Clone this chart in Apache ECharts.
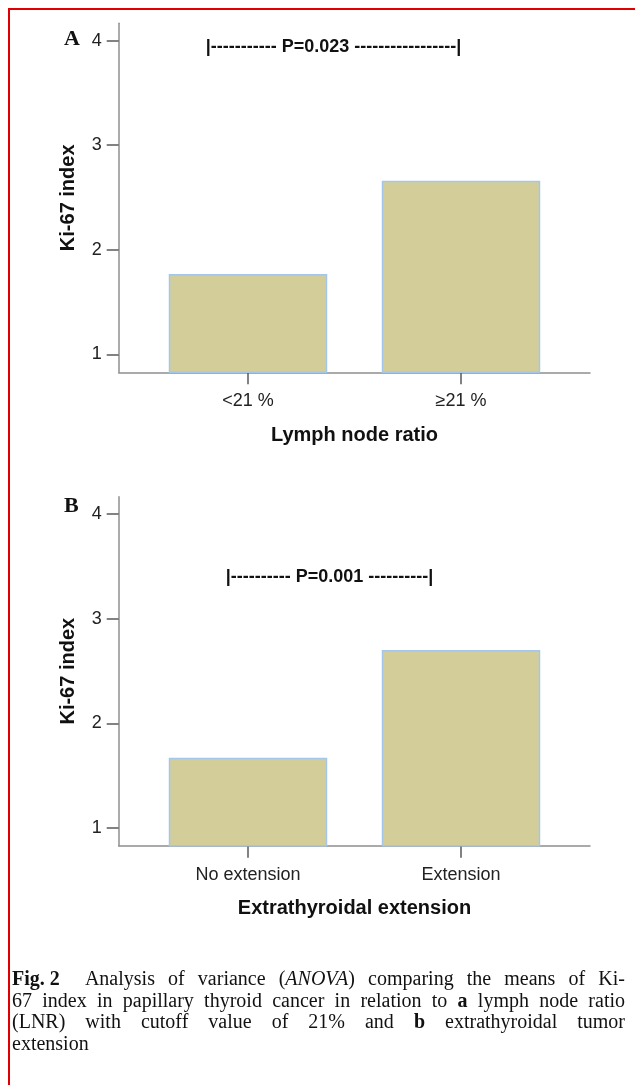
<!DOCTYPE html>
<html>
<head>
<meta charset="utf-8">
<script src="https://cdn.jsdelivr.net/npm/echarts@6/dist/echarts.min.js"></script>
<style>
  html, body { margin: 0; padding: 0; background: #fff; }
  #wrap { position: relative; width: 635px; height: 1085px; overflow: hidden; }
  #chart { position: absolute; left: 0; top: 0; width: 635px; height: 1085px; }
  #frame { position: absolute; left: 8px; top: 8px; width: 660px; height: 1100px; border: 2px solid #e00000; box-sizing: border-box; pointer-events: none; }
  #caption { position: absolute; left: 12px; top: 968px; width: 613px; font-family: "Liberation Serif", "Times New Roman", serif; font-size: 20px; line-height: 21.5px; color: #111; }
  #caption .l { white-space: nowrap; text-align: justify; text-align-last: justify; }
  #caption .last { white-space: nowrap; text-align: left; }
  #caption .ib { display: inline-block; }
</style>
</head>
<body>
<div id="wrap">
  <div id="chart"></div>
  <div id="frame"></div>
  <div id="caption">
    <div class="l"><b class="ib">Fig. 2</b>&nbsp; Analysis of variance (<i>ANOVA</i>) comparing the means of Ki-</div>
    <div class="l">67 index in papillary thyroid cancer in relation to <b>a</b> lymph node ratio</div>
    <div class="l">(LNR) with cutoff value of 21% and <b>b</b> extrathyroidal tumor</div>
    <div class="last">extension</div>
  </div>
</div>
<script>
// ---- data ----
const categoriesA = ['<21 %', '\u226521 %'];
const valuesA = [1.77, 2.66];
const categoriesB = ['No extension', 'Extension'];
const valuesB = [1.67, 2.70];
const yTicks = [1, 2, 3, 4];
const yMin = 0.83;
const yMax = 4.165;
const xNameA = 'Lymph node ratio';
const xNameB = 'Extrathyroidal extension';
const yName = 'Ki-67 index';
const pTextA = '|----------- P=0.023 -----------------|';
const pTextB = '|---------- P=0.001 ----------|';

const FONT = '"Liberation Sans", Arial, sans-serif';
const AXIS_COLOR = '#8f8f8f';
const TICK_COLOR = '#5a5a5a';

const chart = echarts.init(document.getElementById('chart'), null, { renderer: 'canvas' });

function frameGrid(top) { return { left: 118.7, top: top, width: 471.3, height: 349, containLabel: false }; }
function barGrid(top) { return { left: 141.5, top: top, width: 426, height: 349, containLabel: false }; }

function frameX(gi) {
  return {
    gridIndex: gi, type: 'value', min: 0, max: 1,
    axisLine: { show: true, lineStyle: { color: AXIS_COLOR, width: 1.5 } },
    axisTick: { show: false }, axisLabel: { show: false }, splitLine: { show: false }
  };
}
function frameY(gi) {
  return {
    gridIndex: gi, type: 'value', min: yMin, max: yMax,
    name: yName, nameLocation: 'middle', nameGap: 40,
    nameTextStyle: { fontFamily: FONT, fontSize: 20, fontWeight: 'bold', color: '#111' },
    axisLine: { show: true, lineStyle: { color: AXIS_COLOR, width: 1.5 } },
    axisTick: { show: true, length: 12, customValues: yTicks, lineStyle: { color: TICK_COLOR, width: 1.5 } },
    axisLabel: { show: true, customValues: yTicks, margin: 17, fontFamily: FONT, fontSize: 18, color: '#222' },
    splitLine: { show: false }
  };
}
function barX(gi, cats, name) {
  return {
    gridIndex: gi, type: 'category', data: cats,
    name: name, nameLocation: 'middle', nameGap: 53,
    nameTextStyle: { fontFamily: FONT, fontSize: 20, fontWeight: 'bold', color: '#111' },
    axisLine: { show: false },
    axisTick: { show: true, alignWithLabel: true, length: 12, lineStyle: { color: TICK_COLOR, width: 1.5 } },
    axisLabel: { show: true, margin: 20, fontFamily: FONT, fontSize: 18, color: '#222' },
    splitLine: { show: false }
  };
}
function barY(gi) {
  return { gridIndex: gi, type: 'value', min: yMin, max: yMax, show: false, splitLine: { show: false } };
}
function barSeries(ai, vals) {
  return {
    type: 'bar', xAxisIndex: ai, yAxisIndex: ai, data: vals, barWidth: '74.4%',
    itemStyle: { color: '#d3ce99', borderColor: '#a3c6ea', borderWidth: 1.5 },
    silent: true, animation: false
  };
}

const option = {
  animation: false,
  backgroundColor: '#ffffff',
  grid: [frameGrid(23.3), barGrid(23.3), frameGrid(496.7), barGrid(496.7)],
  xAxis: [frameX(0), barX(1, categoriesA, xNameA), frameX(2), barX(3, categoriesB, xNameB)],
  yAxis: [frameY(0), barY(1), frameY(2), barY(3)],
  series: [barSeries(1, valuesA), barSeries(3, valuesB)],
  graphic: [
    { type: 'text', left: 64, top: 28, style: { text: 'A', font: 'bold 22px "Liberation Serif", "Times New Roman", serif', fill: '#111' } },
    { type: 'text', left: 64, top: 495, style: { text: 'B', font: 'bold 22px "Liberation Serif", "Times New Roman", serif', fill: '#111' } },
    { type: 'text', x: 333.5, y: 47, style: { text: pTextA, font: 'bold 18px ' + FONT, fill: '#111', align: 'center', verticalAlign: 'middle' } },
    { type: 'text', x: 329.5, y: 577, style: { text: pTextB, font: 'bold 18px ' + FONT, fill: '#111', align: 'center', verticalAlign: 'middle' } }
  ]
};
chart.setOption(option);
</script>
</body>
</html>
